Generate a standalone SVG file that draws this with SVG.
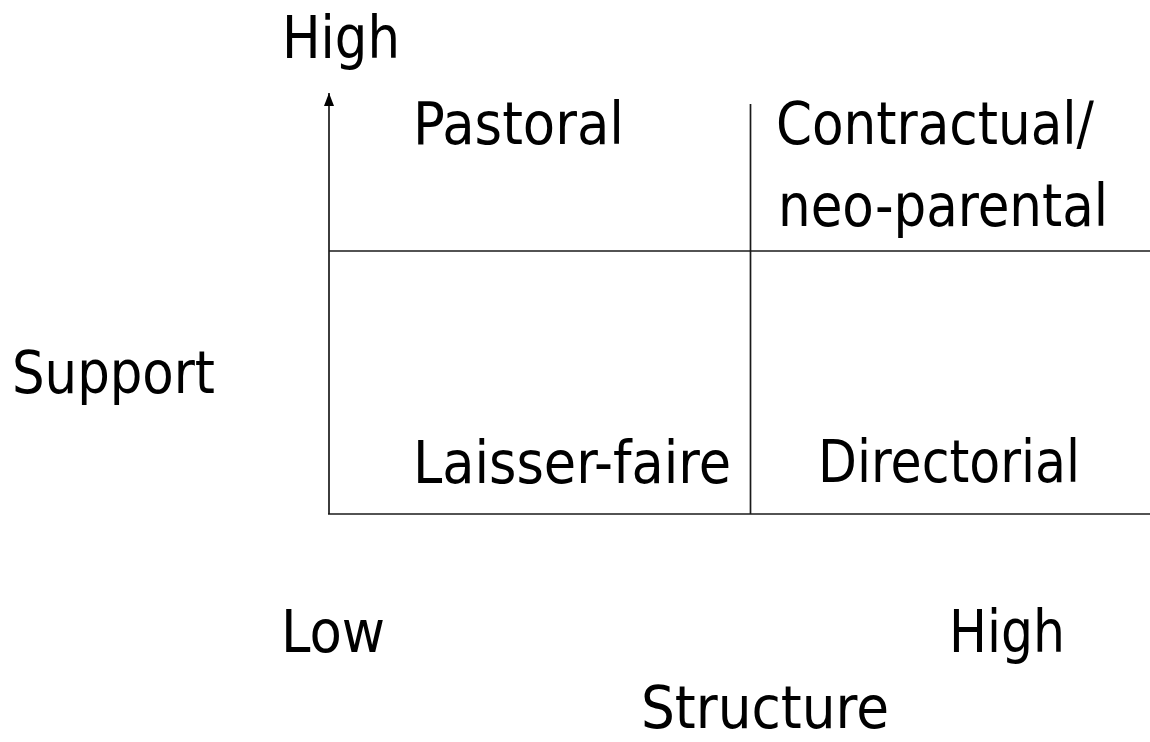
<svg xmlns="http://www.w3.org/2000/svg" width="1150" height="742" viewBox="0 0 1150 742">
<style>
text{font-family:"DejaVu Sans Condensed","DejaVu Sans",sans-serif;font-size:58px;fill:#000}
.ln{stroke:#1a1a1a;stroke-width:1.7;fill:none}
</style>
<defs>
<marker id="ah" markerWidth="13" markerHeight="10" refX="13" refY="5" orient="auto" markerUnits="userSpaceOnUse" viewBox="0 0 13 10">
<path d="M0,0 L13,5 L0,10 Z" fill="#000"/>
</marker>
</defs>
<rect width="1150" height="742" fill="#fff"/>
<g id="connectors">
<line class="ln" x1="329" y1="514" x2="329" y2="93" marker-end="url(#ah)"/>
<line class="ln" x1="328" y1="514" x2="1150" y2="514"/>
<line class="ln" x1="329" y1="251" x2="1150" y2="251"/>
<line class="ln" x1="750.5" y1="104" x2="750.5" y2="514"/>
</g>
<g id="axis-high-top"><text x="282" y="58" textLength="118" lengthAdjust="spacingAndGlyphs">High</text></g>
<g id="pastoral"><text x="413" y="144" textLength="211" lengthAdjust="spacingAndGlyphs">Pastoral</text></g>
<g id="contractual"><text x="776" y="144" textLength="318" lengthAdjust="spacingAndGlyphs">Contractual/</text><text x="778" y="226" textLength="330" lengthAdjust="spacingAndGlyphs">neo-parental</text></g>
<g id="support"><text x="12" y="393" textLength="203" lengthAdjust="spacingAndGlyphs">Support</text></g>
<g id="laisser-faire"><text x="413" y="483" textLength="318" lengthAdjust="spacingAndGlyphs">Laisser-faire</text></g>
<g id="directorial"><text x="818" y="482" textLength="262" lengthAdjust="spacingAndGlyphs">Directorial</text></g>
<g id="axis-low"><text x="281" y="652" textLength="104" lengthAdjust="spacingAndGlyphs">Low</text></g>
<g id="axis-high-right"><text x="949" y="652" textLength="116" lengthAdjust="spacingAndGlyphs">High</text></g>
<g id="structure"><text x="641" y="728" textLength="248" lengthAdjust="spacingAndGlyphs">Structure</text></g>
</svg>
